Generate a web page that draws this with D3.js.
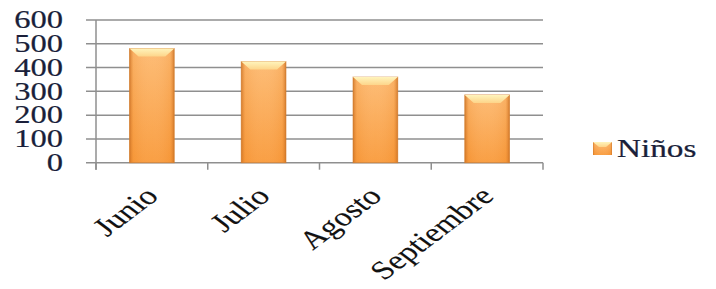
<!DOCTYPE html>
<html><head><meta charset="utf-8">
<script src="https://cdn.jsdelivr.net/npm/d3@7"></script>
<style>body{margin:0;background:#fff}svg{display:block}</style>
</head><body>
<svg id="c" width="716" height="289"></svg>
<script>
const categories = ["Junio", "Julio", "Agosto", "Septiembre"];
const ninos = [480, 425, 360, 285];
const yTicks = [0, 100, 200, 300, 400, 500, 600];
const seriesName = "Niños";

const svg = d3.select("#c");
const m = {l: 96, r: 543, t: 20, b: 162.7};
const SX = 1.33;
const font = "'Liberation Serif', 'Times New Roman', serif";

const x = d3.scaleBand().domain(categories).range([m.l, m.r]).paddingInner(0.6).paddingOuter(0.3);
const y = d3.scaleLinear().domain([0, 600]).range([m.b, m.t]);

const defs = svg.append("defs");
const gv = defs.append("linearGradient").attr("id", "gv").attr("x1", 0).attr("y1", 0).attr("x2", 0).attr("y2", 1);
gv.append("stop").attr("offset", "0%").attr("stop-color", "#fdb96f");
gv.append("stop").attr("offset", "100%").attr("stop-color", "#f99a3a");
const gh = defs.append("linearGradient").attr("id", "gh").attr("x1", 0).attr("y1", 0).attr("x2", 1).attr("y2", 0);
gh.append("stop").attr("offset", "0%").attr("stop-color", "#c46a1e").attr("stop-opacity", 0.75);
gh.append("stop").attr("offset", "9%").attr("stop-color", "#e5852f").attr("stop-opacity", 0.15);
gh.append("stop").attr("offset", "50%").attr("stop-color", "#ffffff").attr("stop-opacity", 0.05);
gh.append("stop").attr("offset", "91%").attr("stop-color", "#e5852f").attr("stop-opacity", 0.15);
gh.append("stop").attr("offset", "100%").attr("stop-color", "#c46a1e").attr("stop-opacity", 0.75);
const gt = defs.append("linearGradient").attr("id", "gt").attr("x1", 0).attr("y1", 0).attr("x2", 0).attr("y2", 1);
gt.append("stop").attr("offset", "0%").attr("stop-color", "#fff4bc");
gt.append("stop").attr("offset", "100%").attr("stop-color", "#fdd58a");

const gridColor = "#8f8f8f";
svg.append("g").selectAll("line").data(yTicks).join("line")
  .attr("x1", m.l - 10).attr("x2", m.r)
  .attr("y1", d => y(d)).attr("y2", d => y(d))
  .attr("stroke", gridColor).attr("stroke-width", 1.5);

svg.append("line").attr("x1", m.l).attr("x2", m.l).attr("y1", m.t).attr("y2", m.b + 7)
  .attr("stroke", gridColor).attr("stroke-width", 1.5);

const bounds = categories.map((c, i) => m.l + i * (m.r - m.l) / categories.length).concat([m.r]);
svg.append("g").selectAll("line").data(bounds).join("line")
  .attr("x1", d => d).attr("x2", d => d).attr("y1", m.b).attr("y2", m.b + 7)
  .attr("stroke", gridColor).attr("stroke-width", 1.5);

svg.append("g").selectAll("text").data(yTicks).join("text")
  .attr("transform", d => `translate(63,${y(d)}) scale(${SX},1)`)
  .attr("text-anchor", "end").attr("dy", "0.34em")
  .attr("font-family", font).attr("font-size", 24.5)
  .attr("fill", "#1a1f3a").attr("stroke", "#1a1f3a").attr("stroke-width", 0.2)
  .text(d => d);

const bw = x.bandwidth();
const bars = svg.append("g").selectAll("g").data(categories).join("g");
bars.append("rect")
  .attr("x", d => x(d)).attr("y", (d, i) => y(ninos[i]))
  .attr("width", bw).attr("height", (d, i) => y(0) - y(ninos[i]))
  .attr("fill", "url(#gv)");
bars.append("rect")
  .attr("x", d => x(d)).attr("y", (d, i) => y(ninos[i]))
  .attr("width", bw).attr("height", (d, i) => y(0) - y(ninos[i]))
  .attr("fill", "url(#gh)").attr("stroke", "#cf7a2c").attr("stroke-opacity", 0.6).attr("stroke-width", 1);
bars.append("path")
  .attr("d", (d, i) => {
    const x0 = x(d), yt = y(ninos[i]), h = 8, ins = 9;
    return `M${x0},${yt}L${x0 + bw},${yt}L${x0 + bw - ins},${yt + h}L${x0 + ins},${yt + h}Z`;
  })
  .attr("fill", "url(#gt)");

svg.append("g").selectAll("text").data(categories).join("text")
  .attr("transform", d => `translate(${x(d) + bw / 2 - 9},${m.b + 22}) scale(${SX},1) rotate(-45)`)
  .attr("text-anchor", "end").attr("dy", "0.7em")
  .attr("font-family", font).attr("font-size", 26)
  .attr("fill", "#111").attr("stroke", "#111").attr("stroke-width", 0.15)
  .text(d => d);

const lg = svg.append("g");
lg.append("rect").attr("x", 593).attr("y", 142).attr("width", 19).attr("height", 13).attr("fill", "url(#gv)");
lg.append("rect").attr("x", 593).attr("y", 142).attr("width", 19).attr("height", 13).attr("fill", "url(#gh)");
lg.append("path").attr("d", "M593,142L612,142L606,147L599,147Z").attr("fill", "url(#gt)");
lg.append("text").attr("transform", "translate(617,148.5) scale(1.33,1)")
  .attr("dy", "0.34em").attr("font-family", font).attr("font-size", 25)
  .attr("fill", "#1a1f3a").attr("stroke", "#1a1f3a").attr("stroke-width", 0.25)
  .text(seriesName);
</script>
</body></html>
